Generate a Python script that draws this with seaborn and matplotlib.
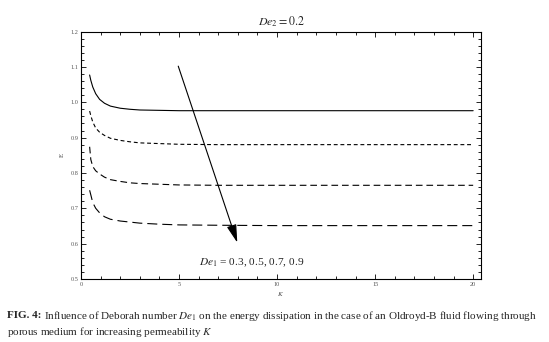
import matplotlib
matplotlib.use("Agg")
import matplotlib.pyplot as plt
import seaborn as sns
import pandas as pd
from matplotlib.ticker import MultipleLocator

# ---- data ----
K = [0.44, 0.5, 0.6, 0.75, 0.95, 1.2, 1.5, 2.0, 2.5, 3, 4, 5, 7, 10, 15, 20]
E_de03 = [1.077, 1.062, 1.043, 1.024, 1.008, 0.997, 0.989, 0.983, 0.980, 0.978, 0.977, 0.976, 0.976, 0.976, 0.976, 0.976]
E_de05 = [0.975, 0.962, 0.944, 0.927, 0.915, 0.906, 0.898, 0.892, 0.888, 0.885, 0.883, 0.881, 0.880, 0.880, 0.880, 0.880]
E_de07 = [0.874, 0.838, 0.818, 0.806, 0.797, 0.788, 0.781, 0.776, 0.772, 0.770, 0.768, 0.766, 0.765, 0.765, 0.765, 0.765]
E_de09 = [0.751, 0.738, 0.716, 0.700, 0.687, 0.676, 0.669, 0.664, 0.661, 0.658, 0.655, 0.653, 0.652, 0.651, 0.651, 0.651]
series = [E_de03, E_de05, E_de07, E_de09]
styles = ["-", (0, (3.5, 2.5)), (0, (6, 3.5)), (0, (9, 4.5))]

arrow_start = (4.96, 1.102)
arrow_end = (7.97, 0.603)

sns.set_style("ticks")
plt.rcParams["mathtext.fontset"] = "stix"
plt.rcParams["font.family"] = ["Liberation Serif", "DejaVu Serif"]

fig = plt.figure(figsize=(5.49, 3.42), dpi=100)
ax = fig.add_axes([81 / 549, 1 - 279 / 342, 400 / 549, 247.5 / 342])

for E, ls in zip(series, styles):
    df = pd.DataFrame({"K": K, "E": E})
    sns.lineplot(data=df, x="K", y="E", ax=ax, color="black", linewidth=0.8,
                 linestyle=ls, estimator=None, sort=False)

ax.set_xlim(0, 20.4)
ax.set_ylim(0.5, 1.2)
ax.xaxis.set_major_locator(MultipleLocator(5))
ax.xaxis.set_minor_locator(MultipleLocator(1))
ax.yaxis.set_major_locator(MultipleLocator(0.1))
ax.yaxis.set_minor_locator(MultipleLocator(0.02))
ax.set_xticks([0, 5, 10, 15, 20])
ax.set_xticklabels(["0", "5", "10", "15", "20"])
ax.set_yticks([0.5, 0.6, 0.7, 0.8, 0.9, 1.0, 1.1, 1.2])
ax.set_yticklabels(["0.5", "0.6", "0.7", "0.8", "0.9", "1.0", "1.1", "1.2"])
ax.tick_params(which="both", direction="in", top=True, right=True,
               labelsize=4.5, labelcolor="#555555", color="black", width=0.6, pad=2)
ax.tick_params(which="major", length=3.5)
ax.tick_params(which="minor", length=2)
for s in ax.spines.values():
    s.set_linewidth(0.8)
    s.set_color("black")

ax.set_xlabel("$K$", fontsize=5, color="#444444", labelpad=2)
ax.set_ylabel("E", fontsize=5, color="#444444", labelpad=4)
ax.set_title("$De_2 = 0.2$", fontsize=8.6, pad=4)

ax.annotate("", xy=arrow_end, xytext=arrow_start,
            arrowprops=dict(arrowstyle="-|>,head_length=1.1,head_width=0.3",
                            color="black", lw=0.8, shrinkA=0, shrinkB=0))
ax.text(6.0, 0.547, "$De_1$ = 0.3, 0.5, 0.7, 0.9", fontsize=8.2, va="center", ha="left")

cap_y1 = 1 - 316 / 342
cap_y2 = 1 - 332 / 342
fig_label = fig.text(7 / 549, cap_y1, "FIG. 4:", fontsize=8, fontweight="bold", va="center", ha="left")
fig.canvas.draw()
bb = fig_label.get_window_extent(renderer=fig.canvas.get_renderer())
fig.text((bb.x1 + 2.5) / 549, cap_y1,
         "Influence of Deborah number $De_1$ on the energy dissipation in the case of an Oldroyd-B fluid flowing through",
         fontsize=8, va="center", ha="left")
fig.text(7 / 549, cap_y2, "porous medium for increasing permeability $K$",
         fontsize=8, va="center", ha="left")

fig.savefig("out.png", dpi=100)
